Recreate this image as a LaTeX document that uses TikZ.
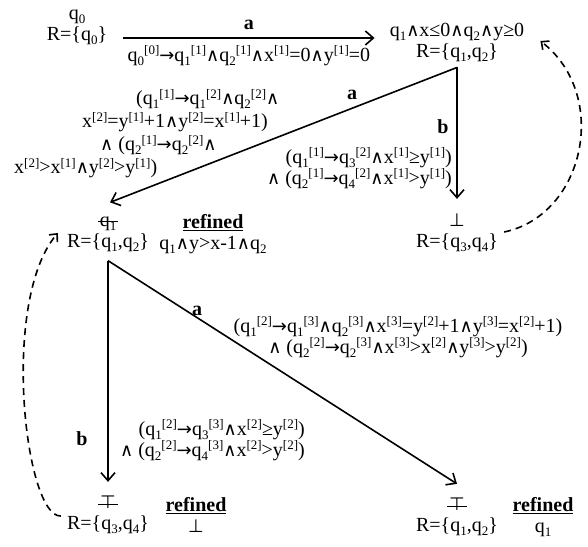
\documentclass[tikz,border=0pt]{standalone}
\usepackage{fontspec}
\setmainfont{Liberation Serif}
\newfontfamily\symf{DejaVu Sans}[Scale=0.9]
\usetikzlibrary{arrows.meta}

\newcommand{\cand}{{\symf ∧}}
\newcommand{\cto}{{\symf →}}
\newcommand{\cbot}{{\symf ⊥}}
\newcommand{\ctop}{{\symf ⊤}}
\newcommand{\qsub}[1]{q\raisebox{-4pt}{\fontsize{13}{13}\selectfont#1}}
\newcommand{\stp}[1]{\raisebox{6.5pt}{\fontsize{13}{13}\selectfont[#1]}}
\newsavebox{\strkbox}
\newcommand{\strk}[1]{\sbox{\strkbox}{#1}%
  \makebox[0pt][l]{\hspace{-2pt}\rule[0.45ex]{\dimexpr\wd\strkbox+4pt\relax}{0.7pt}}\usebox{\strkbox}}

\tikzset{
  txt/.style={inner sep=0pt, align=center, font=\fontsize{20}{21}\selectfont},
  elbl/.style={inner sep=0pt, font=\fontsize{20}{21}\selectfont\bfseries},
  arr/.style={line width=1.6pt, -{Straight Barb[length=8pt,width=14pt]}},
  back/.style={line width=1.6pt, dash pattern=on 7pt off 5pt, -{Straight Barb[length=6pt,width=11pt]}}
}

\begin{document}
\begin{tikzpicture}[x=1pt,y=-1pt]
\useasboundingbox (0,0) rectangle (588,546);

% states
\node[txt] (q0) at (77,27) {\qsub0\\R=\{\qsub0\}};
\node[txt] (qa) at (457,42) {\qsub1\cand x≤0\cand\qsub2\cand y≥0\\R=\{\qsub1,\qsub2\}};
\node[txt] (qb) at (457,233) {\cbot\\R=\{\qsub3,\qsub4\}};
\node[txt] (qc) at (108,234) {\strk{\qsub1}\\R=\{\qsub1,\qsub2\}};
\node[txt] (rc) at (213,234) {\underline{\textbf{refined}}\\\qsub1\cand y>x-1\cand\qsub2};
\node[txt] (qd) at (108,515) {\strk{\ctop}\\R=\{\qsub3,\qsub4\}};
\node[txt] (rd) at (196,515) {\underline{\textbf{refined}}\\\cbot};
\node[txt] (qe) at (457,517) {\strk{\ctop}\\R=\{\qsub1,\qsub2\}};
\node[txt] (re) at (543,517) {\underline{\textbf{refined}}\\\qsub1};

\coordinate (qa-out) at ([yshift=-6pt]qa.south);
\coordinate (qc-out) at ([yshift=-9pt]qc.south);

% transitions
\draw[arr] ([xshift=16pt,yshift=-11pt]q0.east) -- ([xshift=-15pt,yshift=-11pt]qa.west |- q0.east)
  node[elbl, midway, above=8pt] (ta) {a}
  node[txt, midway, below=7pt] (ga) {\qsub0\stp0\cto\qsub1\stp1\cand\qsub2\stp1\cand x\stp1=0\cand y\stp1=0};
\draw[arr] (qa-out) -- ([xshift=2pt,yshift=14pt]qc.north);
\draw[arr] (qa-out) -- ([yshift=15pt]qb.north);
\draw[arr] (qc-out) -- ([yshift=14pt]qd.north);
\draw[arr] (qc-out) -- ([yshift=14pt]qe.north);

% labels
\node[elbl] (la) at (352,95) {a};
\node[elbl] (lb) at (443,127) {b};
\node[txt, anchor=west] (ga1) at (136,99) {(\qsub1\stp1\cto\qsub1\stp2\cand\qsub2\stp2\cand};
\node[txt, anchor=west] (ga2) at (82,122) {x\stp2=y\stp1+1\cand y\stp2=x\stp1+1)};
\node[txt, anchor=west] (ga3) at (100,145) {\cand\ (\qsub2\stp1\cto\qsub2\stp2\cand};
\node[txt, anchor=west] (ga4) at (14,168) {x\stp2>x\stp1\cand y\stp2>y\stp1)};
\node[txt, anchor=east, align=right] (gb) at (452,168)
  {(\qsub1\stp1\cto\qsub3\stp2\cand x\stp1≥y\stp1)\\\cand\ (\qsub2\stp1\cto\qsub4\stp2\cand x\stp1>y\stp1)};
\node[elbl] (lc) at (197,311) {a};
\node[txt] (gc) at (398,337)
  {(\qsub1\stp2\cto\qsub1\stp3\cand\qsub2\stp3\cand x\stp3=y\stp2+1\cand y\stp3=x\stp2+1)\\\cand\ (\qsub2\stp2\cto\qsub2\stp3\cand x\stp3>x\stp2\cand y\stp3>y\stp2)};
\node[elbl] (ld) at (82,439) {b};
\node[txt, anchor=east, align=right] (gd) at (305,440)
  {(\qsub1\stp2\cto\qsub3\stp3\cand x\stp2≥y\stp2)\\\cand\ (\qsub2\stp2\cto\qsub4\stp3\cand x\stp2>y\stp2)};

% refinement loops
\draw[back] ([xshift=6pt,yshift=1pt]qb.east) .. controls (585,215) and (610,95) .. ([xshift=16pt,yshift=1pt]qa.east);
\draw[back] ([xshift=-6pt,yshift=-1pt]qd.west) .. controls (25,518) and (0,300) .. ([xshift=-9pt,yshift=1pt]qc.west);
\end{tikzpicture}
\end{document}
